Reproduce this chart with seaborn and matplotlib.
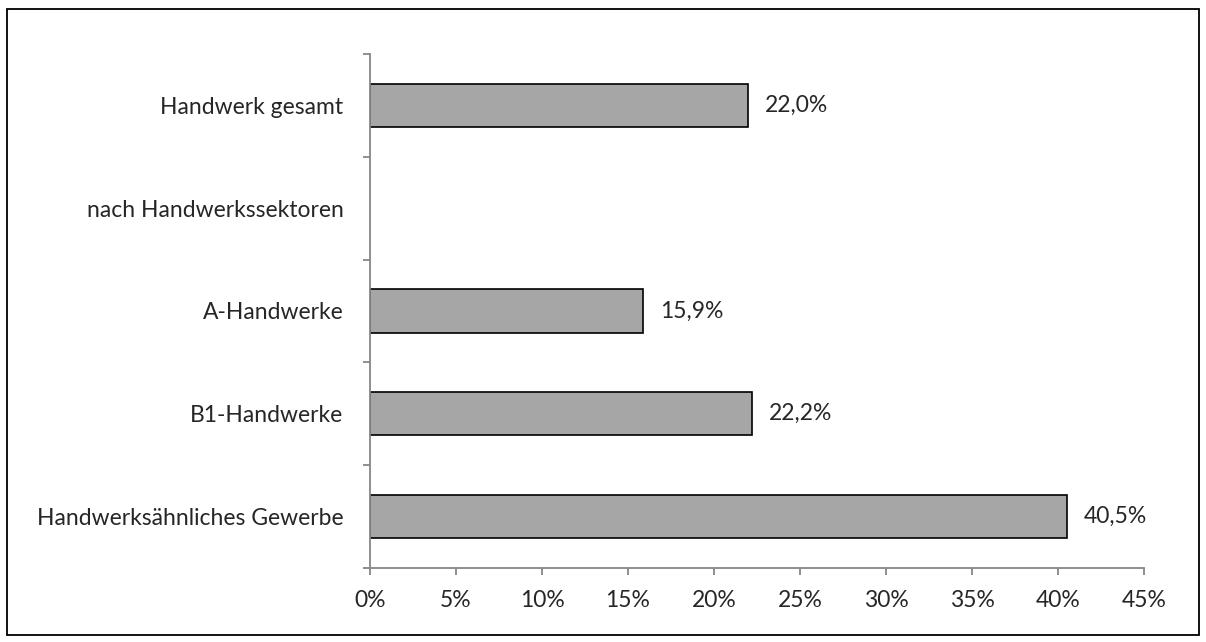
import pandas as pd
import seaborn as sns
import matplotlib.pyplot as plt
from matplotlib.ticker import FuncFormatter
from matplotlib.patches import Rectangle

# categories top to bottom, "nach Handwerkssektoren" is only a heading row
categories = ["Handwerk gesamt", "nach Handwerkssektoren", "A-Handwerke",
              "B1-Handwerke", "Handwerksähnliches Gewerbe"]
shares = [22.0, None, 15.9, 22.2, 40.5]

df = pd.DataFrame({"cat": categories, "share": shares}).dropna()

sns.set_style("white")
plt.rcParams['font.family'] = ['Lato', 'DejaVu Sans']
fs = 16.5

fig = plt.figure(figsize=(12.06, 6.42), dpi=100)
ax = fig.add_axes([0.3068, 0.1153, 0.9486 - 0.3068, 0.9159 - 0.1153])

sns.barplot(data=df, x="share", y="cat", order=categories, color="#A6A6A6",
            edgecolor="black", linewidth=1.2, width=0.42, saturation=1, ax=ax)

ax.bar_label(ax.containers[0], fmt=lambda v: f"{v:.1f}%".replace(".", ","),
             padding=12, fontsize=fs)

ax.set_xlim(0, 45)
ax.set_xticks(range(0, 46, 5))
ax.xaxis.set_major_formatter(FuncFormatter(lambda v, p: f"{v:.0f}%"))
ax.set_ylim(4.5, -0.5)
ax.set_yticks([i - 0.5 for i in range(6)], minor=False)
ax.set_yticklabels([])
ax.set_yticks(range(5), minor=True)
ax.set_yticklabels(categories, minor=True)
ax.set_xlabel("")
ax.set_ylabel("")

for s in ["top", "right"]:
    ax.spines[s].set_visible(False)
for s in ["left", "bottom"]:
    ax.spines[s].set_color("#868686")
    ax.spines[s].set_linewidth(1.3)

ax.tick_params(axis="x", which="major", direction="out", length=5, width=1.3,
               color="#868686", labelsize=fs, pad=11, bottom=True)
ax.tick_params(axis="y", which="major", direction="out", length=5, width=1.3,
               color="#868686", left=True)
ax.tick_params(axis="y", which="minor", length=0, labelsize=fs, pad=19)

# border around the whole picture
fig.patches.append(Rectangle((0.0058, 0.0109), 0.988, 0.975, transform=fig.transFigure,
                             fill=False, edgecolor="black", linewidth=1.3))

fig.savefig("out.png", dpi=100)
